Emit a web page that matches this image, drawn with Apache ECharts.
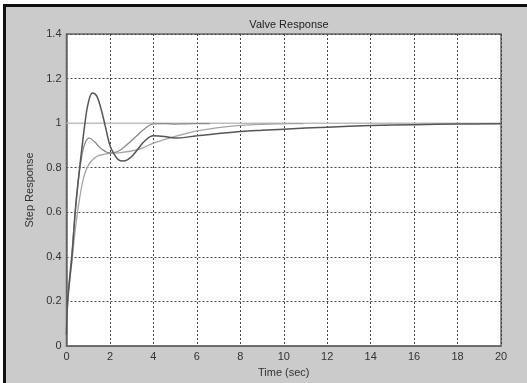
<!DOCTYPE html>
<html>
<head>
<meta charset="utf-8">
<script src="https://cdn.jsdelivr.net/npm/echarts@6/dist/echarts.min.js"></script>
<style>
  html, body { margin: 0; padding: 0; background: #fff; }
  #chart { width: 527px; height: 383px; }
</style>
</head>
<body>
<div id="chart"></div>
<script>
// tick labels
var xTicks = [0, 2, 4, 6, 8, 10, 12, 14, 16, 18, 20];
var yTicks = [0, 0.2, 0.4, 0.6, 0.8, 1, 1.2, 1.4];

// setpoint line
var refT = [0, 20];
var refY = [1, 1];

// slow, non-oscillating response (ends around 11 s)
var lightT = [0, 0.05, 0.15, 0.25, 0.4, 0.6, 0.8, 1.0, 1.25, 1.5, 2.0, 2.5, 3.0, 3.4, 4.0, 4.85, 6.0, 7.0, 8.0, 9.0, 10.0, 10.9];
var lightY = [0.05, 0.18, 0.3, 0.38, 0.52, 0.66, 0.76, 0.81, 0.84, 0.855, 0.865, 0.868, 0.875, 0.885, 0.91, 0.936, 0.965, 0.98, 0.99, 0.995, 0.997, 0.998];

// medium response (ends around 6.6 s)
var midT = [0, 0.05, 0.15, 0.25, 0.4, 0.55, 0.7, 0.85, 1.05, 1.3, 1.6, 2.0, 2.4, 2.8, 3.2, 3.6, 4.0, 4.5, 5.0, 5.5, 6.6];
var midY = [0.05, 0.2, 0.32, 0.42, 0.6, 0.75, 0.85, 0.91, 0.933, 0.915, 0.885, 0.866, 0.875, 0.905, 0.94, 0.975, 0.997, 0.998, 0.996, 0.997, 0.998];

// overshooting response (runs to 20 s)
var darkT = [0, 0.05, 0.15, 0.25, 0.4, 0.55, 0.7, 0.85, 1.0, 1.2, 1.4, 1.6, 1.8, 2.0, 2.2, 2.4, 2.6, 2.8, 3.0, 3.3, 3.6, 4.0, 4.5, 5.0, 6.0, 7.0, 8.0, 9.0, 10.0, 12.0, 14.0, 16.0, 18.0, 20.0];
var darkY = [0.05, 0.2, 0.3, 0.4, 0.6, 0.75, 0.88, 1.0, 1.09, 1.135, 1.12, 1.06, 0.98, 0.9, 0.86, 0.835, 0.83, 0.835, 0.85, 0.885, 0.92, 0.943, 0.94, 0.933, 0.943, 0.953, 0.962, 0.968, 0.973, 0.982, 0.989, 0.993, 0.996, 0.997];

function zip(t, y) {
  return t.map(function (v, i) { return [v, y[i]]; });
}

var chart = echarts.init(document.getElementById('chart'));

var labelFont = { color: '#333', fontSize: 11, fontFamily: 'Liberation Sans, Arial, sans-serif' };

chart.setOption({
  animation: false,
  backgroundColor: 'transparent',
  graphic: [
    { type: 'rect', z: -10, shape: { x: 3, y: 4, width: 524, height: 379 }, style: { fill: '#cbcbcb', stroke: null } },
    { type: 'rect', z: -9, shape: { x: 3, y: 4, width: 524, height: 3 }, style: { fill: '#111' } },
    { type: 'rect', z: -9, shape: { x: 3, y: 4, width: 3, height: 379 }, style: { fill: '#111' } }
  ],
  title: {
    text: 'Valve Response',
    left: 284, top: 14, textAlign: 'center',
    textStyle: { fontSize: 11, fontWeight: 'normal', color: '#222', fontFamily: 'Liberation Sans, Arial, sans-serif' }
  },
  grid: {
    left: 66.5, top: 34, right: 26, bottom: 34.5,
    show: true, backgroundColor: '#fff', borderColor: '#6a6a6a', borderWidth: 1.5
  },
  xAxis: [{
    type: 'value', min: 0, max: 20, interval: 2,
    name: 'Time (sec)', nameLocation: 'middle', nameGap: 21,
    nameTextStyle: labelFont,
    axisLine: { show: true, onZero: false, lineStyle: { color: '#6a6a6a', width: 1.5 } },
    axisTick: { show: false },
    axisLabel: Object.assign({ margin: 5, formatter: function (v) { return xTicks.indexOf(v) >= 0 ? String(v) : ''; } }, labelFont),
    splitLine: { show: true, lineStyle: { color: '#444', type: [2, 2], width: 1 } }
  }],
  yAxis: [{
    type: 'value', min: 0, max: 1.4, interval: 0.2,
    name: 'Step Response', nameLocation: 'middle', nameGap: 26, nameRotate: 90,
    nameTextStyle: labelFont,
    axisLine: { show: true, onZero: false, lineStyle: { color: '#6a6a6a', width: 1.5 } },
    axisTick: { show: false },
    axisLabel: Object.assign({ margin: 5, formatter: function (v) {
      var r = Math.round(v * 10) / 10;
      return yTicks.indexOf(r) >= 0 ? String(r) : '';
    } }, labelFont),
    splitLine: { show: true, lineStyle: { color: '#444', type: [2, 2], width: 1 } }
  }],
  series: [
    { type: 'line', data: zip(refT, refY), symbol: 'none', lineStyle: { color: '#bdbdbd', width: 1.5 } },
    { type: 'line', data: zip(lightT, lightY), symbol: 'none', smooth: 0.4, lineStyle: { color: '#a4a4a4', width: 1.3 } },
    { type: 'line', data: zip(midT, midY), symbol: 'none', smooth: 0.4, lineStyle: { color: '#8a8a8a', width: 1.3 } },
    { type: 'line', data: zip(darkT, darkY), symbol: 'none', smooth: 0.4, lineStyle: { color: '#555', width: 1.5 } }
  ]
});
</script>
</body>
</html>
